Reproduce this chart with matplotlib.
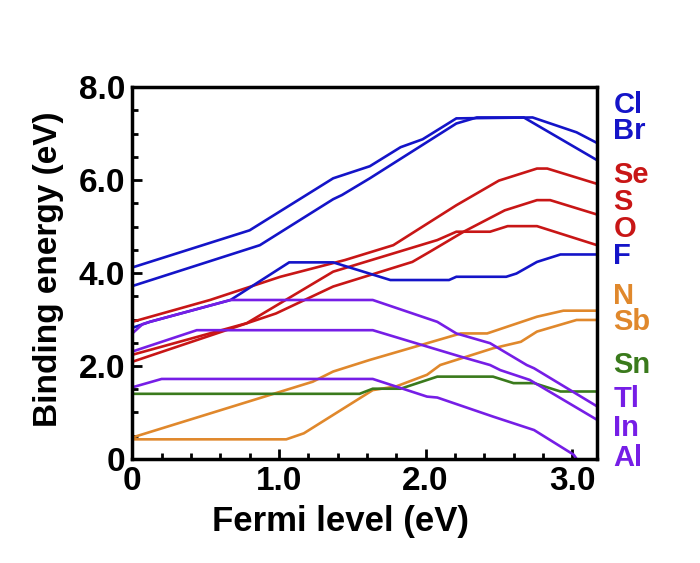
import numpy as np
import matplotlib
matplotlib.use('Agg')
import matplotlib.pyplot as plt
from matplotlib.ticker import MultipleLocator
from matplotlib.transforms import blended_transform_factory

plt.rcParams['font.family'] = ['Liberation Sans', 'DejaVu Sans']
plt.rcParams['font.weight'] = 'bold'

# binding energy (eV) vs Fermi level (eV)
cl_x = [0, 0.80, 1.37, 1.62, 1.83, 1.98, 2.21, 2.73, 3.03, 3.17]
cl_y = [4.12, 4.92, 6.04, 6.30, 6.71, 6.88, 7.33, 7.35, 7.03, 6.80]
br_x = [0, 0.87, 1.37, 1.43, 1.62, 2.21, 2.35, 2.67, 3.17]
br_y = [3.72, 4.60, 5.59, 5.68, 6.04, 7.22, 7.35, 7.35, 6.43]

se_x = [0, 0.53, 1.01, 1.45, 1.78, 2.03, 2.21, 2.50, 2.76, 2.83, 3.17]
se_y = [2.95, 3.42, 3.92, 4.28, 4.60, 5.10, 5.46, 5.99, 6.25, 6.25, 5.92]
s_x = [0, 0.98, 1.37, 1.91, 2.03, 2.26, 2.54, 2.76, 2.85, 3.17]
s_y = [2.09, 3.13, 3.71, 4.24, 4.46, 4.89, 5.35, 5.57, 5.57, 5.26]
o_x = [0, 0.78, 1.37, 2.08, 2.21, 2.44, 2.56, 2.76, 3.17]
o_y = [2.24, 2.92, 4.03, 4.71, 4.89, 4.89, 5.01, 5.01, 4.60]
f_x = [0, 0.12, 0.67, 1.07, 1.37, 1.76, 2.16, 2.21, 2.55, 2.62, 2.76, 2.92, 3.17]
f_y = [2.82, 2.95, 3.42, 4.23, 4.23, 3.85, 3.85, 3.92, 3.92, 3.99, 4.24, 4.40, 4.40]

n_x = [0, 1.23, 1.37, 1.62, 2.24, 2.42, 2.76, 2.94, 3.17]
n_y = [0.46, 1.66, 1.88, 2.13, 2.70, 2.70, 3.06, 3.19, 3.19]
sb_x = [0, 1.05, 1.17, 1.64, 1.80, 2.01, 2.10, 2.46, 2.65, 2.76, 3.03, 3.17]
sb_y = [0.42, 0.42, 0.55, 1.48, 1.56, 1.81, 2.02, 2.38, 2.52, 2.74, 2.99, 2.99]

sn_x = [0, 1.55, 1.64, 1.83, 2.08, 2.46, 2.60, 2.74, 2.92, 3.17]
sn_y = [1.40, 1.40, 1.51, 1.51, 1.77, 1.77, 1.63, 1.63, 1.45, 1.45]

tl_x = [0, 0.07, 0.12, 0.67, 1.64, 2.08, 2.21, 2.44, 2.69, 2.74, 3.17]
tl_y = [2.70, 2.90, 2.95, 3.42, 3.42, 2.95, 2.70, 2.49, 2.02, 1.95, 1.13]
in_x = [0, 0.44, 1.64, 2.05, 2.24, 2.44, 2.51, 2.71, 3.17]
in_y = [2.31, 2.77, 2.77, 2.38, 2.20, 2.02, 1.91, 1.70, 0.84]
al_x = [0, 0.20, 1.64, 2.01, 2.08, 2.46, 2.74, 3.01, 3.03]
al_y = [1.54, 1.72, 1.72, 1.34, 1.32, 0.91, 0.62, 0.09, 0.0]

labels = ['Cl', 'Br', 'Se', 'S', 'O', 'F', 'N', 'Sb', 'Sn', 'Tl', 'In', 'Al']
label_y = [7.61, 7.05, 6.11, 5.53, 4.95, 4.37, 3.51, 2.95, 2.02, 1.29, 0.67, 0.02]

blue = '#1414c8'
red = '#c81616'
orange = '#e0882c'
green = '#3a7a1c'
purple = '#761ee6'

series = [(cl_x, cl_y, blue), (br_x, br_y, blue),
          (se_x, se_y, red), (s_x, s_y, red), (o_x, o_y, red), (f_x, f_y, blue),
          (n_x, n_y, orange), (sb_x, sb_y, orange), (sn_x, sn_y, green),
          (tl_x, tl_y, purple), (in_x, in_y, purple), (al_x, al_y, purple)]
label_colors = [blue, blue, red, red, red, blue, orange, orange, green,
                purple, purple, purple]

fig = plt.figure(figsize=(7.0, 5.63), dpi=100)
ax = fig.add_axes([0.189, 0.185, 0.664, 0.660])

for x, y, c in series:
    ax.plot(x, y, color=c, lw=1.9, solid_joinstyle='miter')

ax.set_xlim(0, 3.17)
ax.set_ylim(0, 8.0)
ax.xaxis.set_minor_locator(MultipleLocator(0.2))
ax.yaxis.set_minor_locator(MultipleLocator(0.5))
ax.set_xticks([0, 1, 2, 3])
ax.set_xticklabels(['0', '1.0', '2.0', '3.0'])
ax.set_yticks([0, 2, 4, 6, 8])
ax.set_yticklabels(['0', '2.0', '4.0', '6.0', '8.0'])
ax.tick_params(which='both', direction='in', width=2, top=False, right=False,
               labelsize=24, pad=5)
ax.tick_params(which='major', length=7)
ax.tick_params(which='minor', length=4.5)
for sp in ax.spines.values():
    sp.set_linewidth(2.5)

ax.set_xlabel('Fermi level (eV)', fontsize=25, fontweight='bold')
ax.xaxis.set_label_coords(0.449, -0.125)
ax.set_ylabel('Binding energy (eV)', fontsize=24, fontweight='bold')
ax.yaxis.set_label_coords(-0.148, 0.51)

tr = blended_transform_factory(ax.transAxes, ax.transData)
for name, yy, c in zip(labels, label_y, label_colors):
    ax.text(1.035, yy, name, transform=tr, color=c, fontsize=21,
            fontweight='bold', va='center', ha='left', clip_on=False)

fig.savefig('out.png', dpi=100, facecolor='white')
